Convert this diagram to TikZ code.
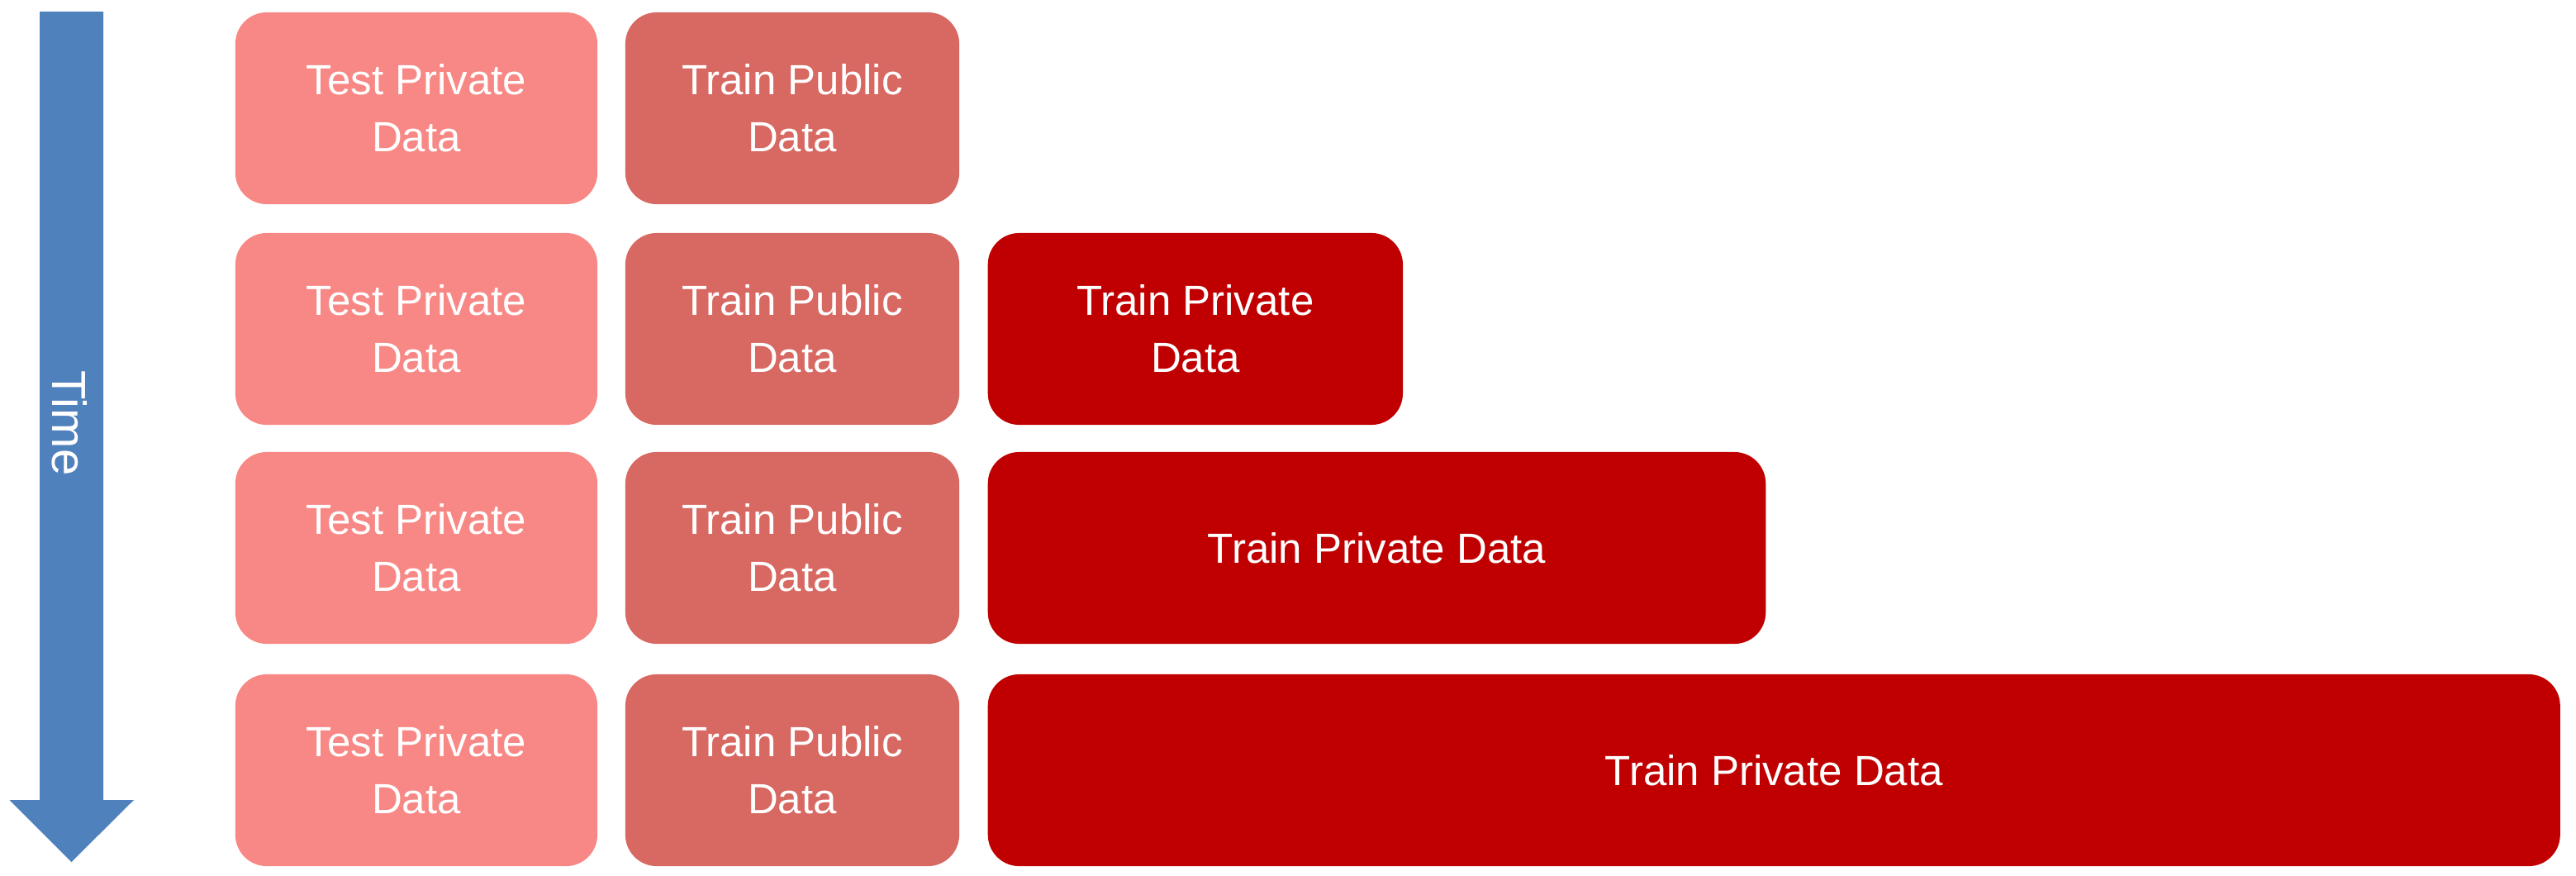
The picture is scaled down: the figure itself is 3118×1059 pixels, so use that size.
\documentclass[tikz,border=0pt]{standalone}
\usepackage{fontspec}
\setmainfont{Liberation Sans}
\definecolor{testpriv}{HTML}{F88885}
\definecolor{trainpub}{HTML}{D86862}
\definecolor{trainpriv}{HTML}{C00000}
\definecolor{timeblue}{HTML}{4F81BD}
\tikzset{
  databox/.style={rectangle, rounded corners=0.38cm, inner sep=0pt, minimum height=2.32cm,
    text=white, align=center, font=\fontsize{14.5}{19.5}\selectfont},
  testbox/.style={databox, fill=testpriv, minimum width=4.38cm},
  pubbox/.style={databox, fill=trainpub, minimum width=4.04cm},
  privbox/.style={databox, fill=trainpriv, anchor=west},
}
\begin{document}
\begin{tikzpicture}[x=0.01cm, y=-0.01cm]
\useasboundingbox (0,0) rectangle (3118,1059);
% time arrow
\fill[timeblue] (48,14) -- (125,14) -- (125,968) -- (162,968) -- (86.5,1043) -- (11.5,968) -- (48,968) -- cycle;
\node[text=white, rotate=-90, font=\fontsize{16.5}{20}\selectfont, inner sep=0pt] (time) at (84,512) {Time};
% row 1
\node[testbox] (t1) at (504,131) {Test Private\\Data};
\node[pubbox] (p1) at (959,131) {Train Public\\Data};
% row 2
\node[testbox] (t2) at (504,398) {Test Private\\Data};
\node[pubbox] (p2) at (959,398) {Train Public\\Data};
\node[privbox, minimum width=5.02cm] (r2) at (1195,398) {Train Private\\Data};
% row 3
\node[testbox] (t3) at (504,663) {Test Private\\Data};
\node[pubbox] (p3) at (959,663) {Train Public\\Data};
\node[privbox, minimum width=9.41cm] (r3) at (1195,663) {Train Private Data};
% row 4
\node[testbox] (t4) at (504,932) {Test Private\\Data};
\node[pubbox] (p4) at (959,932) {Train Public\\Data};
\node[privbox, minimum width=19.02cm] (r4) at (1195,932) {Train Private Data};
\end{tikzpicture}
\end{document}
